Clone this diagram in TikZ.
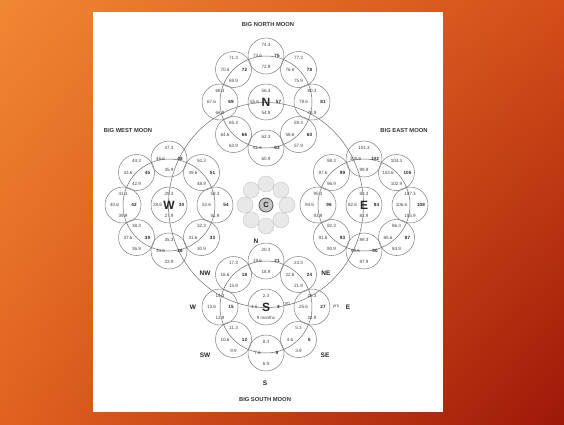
\documentclass[tikz,border=0pt]{standalone}
\usepackage{fontspec}
\setmainfont{Liberation Sans}
\usepackage{xcolor}
\usetikzlibrary{calc,positioning,shadings}
\definecolor{bgtl}{RGB}{240,135,50}
\definecolor{bgtr}{RGB}{212,78,25}
\definecolor{bgbl}{RGB}{225,98,32}
\definecolor{bgbr}{RGB}{158,24,8}
\definecolor{linegray}{RGB}{110,110,110}
\definecolor{circgray}{RGB}{125,125,125}
\definecolor{numgray}{RGB}{70,70,70}

% one moon circle with its four numbers
\newcommand{\moonpetal}[6]{%
  \node[petal] (#1) at (#2) {};
  \node[num] (#1t) at ([yshift=11.5pt]#1.center) {#3};
  \node[num] (#1l) at ([xshift=-8.5pt]#1.center) {#4};
  \node[bnum] (#1r) at ([xshift=11pt]#1.center) {#5};
  \node[num] (#1b) at ([yshift=-11pt]#1.center) {#6};
}
% centre circle of a big moon
\newcommand{\moonhub}[7]{%
  \node[petal, letter] (#1) at (#2) {#3};
  \node[num] (#1t) at ([yshift=11.5pt]#1.center) {#4};
  \node[num] (#1l) at ([xshift=-11.5pt]#1.center) {#5};
  \node[bnum] (#1r) at ([xshift=12.5pt]#1.center) {#6};
  \node[num] (#1b) at ([yshift=-11pt]#1.center) {#7};
}

\begin{document}
\begin{tikzpicture}[x=1pt, y=-1pt, line/.style={draw=linegray, line width=0.5pt}]
    % Define styles for circles and labels
    \tikzstyle{petal} = [draw=circgray, line width=0.5pt, circle, minimum size=36pt, inner sep=0pt]
    \tikzstyle{num} = [font=\fontsize{4.6}{5}\selectfont, text=numgray, inner sep=0pt]
    \tikzstyle{bnum} = [num, font=\fontsize{4.6}{5}\selectfont\bfseries, text=black!85]
    \tikzstyle{letter} = [font=\fontsize{12}{12}\selectfont\bfseries, text=black!85]
    \tikzstyle{compass} = [font=\fontsize{6.5}{7}\selectfont\bfseries, text=black!85, inner sep=0pt]
    \tikzstyle{title} = [font=\fontsize{5.8}{6}\selectfont\bfseries, text=black!80, inner sep=0pt]
    \tikzstyle{cpetal} = [draw=gray!45, fill=gray!18, circle, minimum size=16pt, inner sep=0pt, line width=0.4pt]
    \tikzstyle{chub} = [draw=black!65, fill=gray!45, circle, minimum size=14pt, inner sep=0pt, line width=0.8pt, font=\fontsize{7.5}{8}\selectfont\bfseries, text=black!85]

    % Background and page
    \shade[upper left=bgtl, upper right=bgtr, lower left=bgbl, lower right=bgbr] (0,0) rectangle (564,424);
    \useasboundingbox (0,0) rectangle (564,424);
    \fill[white] (93,12) rectangle (443,412);

    % Big moon centres
    \coordinate (C) at (266,205);
    \coordinate (Nc) at (266,102);
    \coordinate (Sc) at (266,307);
    \coordinate (Wc) at (169,205);
    \coordinate (Ec) at (364,205);

    % Orbits
    \draw[line] (C) ellipse [x radius=97.5pt, y radius=102.5pt];
    \draw[line] (Nc) circle [radius=46pt];
    \draw[line] (Sc) circle [radius=46pt];
    \draw[line] (Wc) circle [radius=46pt];
    \draw[line] (Ec) circle [radius=46pt];

    % Big South Moon
    \moonhub{S}{Sc}{S}{2.3}{1.6}{3}{}
    \node[num, font=\fontsize{4.4}{5}\selectfont] (Sb9) at ([yshift=-11pt]S.center) {9 months};
    \moonpetal{s21}{$(Sc)+(0,-46)$}{20.3}{19.6}{21}{18.9}
    \moonpetal{s18}{$(Sc)+(-32.5,-32.5)$}{17.3}{16.6}{18}{15.9}
    \moonpetal{s15}{$(Sc)+(-46,0)$}{14.3}{13.6}{15}{12.9}
    \moonpetal{s12}{$(Sc)+(-32.5,32.5)$}{11.3}{10.6}{12}{9.9}
    \moonpetal{s9}{$(Sc)+(0,46)$}{8.3}{7.6}{9}{6.9}
    \moonpetal{s6}{$(Sc)+(32.5,32.5)$}{5.3}{4.6}{6}{3.9}
    \moonpetal{s27}{$(Sc)+(46,0)$}{26.3}{25.6}{27}{24.9}
    \moonpetal{s24}{$(Sc)+(32.5,-32.5)$}{23.3}{22.6}{24}{21.9}
    \node[num] (s30) at (287,304) {30};
    \node[num] (yrs) at (336,307) {yrs};

    % Big West Moon
    \moonhub{W}{Wc}{W}{29.3}{28.6}{30}{27.9}
    \moonpetal{w48}{$(Wc)+(0,-46)$}{47.3}{46.6}{48}{45.9}
    \moonpetal{w45}{$(Wc)+(-32.5,-32.5)$}{44.3}{43.6}{45}{42.9}
    \moonpetal{w42}{$(Wc)+(-46,0)$}{41.3}{40.6}{42}{39.9}
    \moonpetal{w39}{$(Wc)+(-32.5,32.5)$}{38.3}{37.6}{39}{36.9}
    \moonpetal{w36}{$(Wc)+(0,46)$}{35.3}{34.6}{36}{33.9}
    \moonpetal{w33}{$(Wc)+(32.5,32.5)$}{32.3}{31.6}{33}{30.9}
    \moonpetal{w54}{$(Wc)+(46,0)$}{53.3}{52.6}{54}{51.9}
    \moonpetal{w51}{$(Wc)+(32.5,-32.5)$}{50.3}{49.6}{51}{48.9}

    % Big North Moon
    \moonhub{N}{Nc}{N}{56.3}{55.6}{57}{54.9}
    \moonpetal{n75}{$(Nc)+(0,-46)$}{74.3}{73.6}{75}{72.9}
    \moonpetal{n72}{$(Nc)+(-32.5,-32.5)$}{71.3}{70.6}{72}{69.9}
    \moonpetal{n69}{$(Nc)+(-46,0)$}{68.3}{67.6}{69}{66.9}
    \moonpetal{n66}{$(Nc)+(-32.5,32.5)$}{65.3}{64.6}{66}{63.9}
    \moonpetal{n63}{$(Nc)+(0,46)$}{62.3}{61.6}{63}{60.9}
    \moonpetal{n60}{$(Nc)+(32.5,32.5)$}{59.3}{58.6}{60}{57.9}
    \moonpetal{n81}{$(Nc)+(46,0)$}{80.3}{79.6}{81}{78.9}
    \moonpetal{n78}{$(Nc)+(32.5,-32.5)$}{77.3}{76.6}{78}{75.9}

    % Big East Moon
    \moonhub{E}{Ec}{E}{83.3}{82.6}{84}{81.9}
    \moonpetal{e102}{$(Ec)+(0,-46)$}{101.3}{100.6}{102}{99.9}
    \moonpetal{e99}{$(Ec)+(-32.5,-32.5)$}{98.3}{97.6}{99}{96.9}
    \moonpetal{e96}{$(Ec)+(-46,0)$}{95.3}{94.6}{96}{93.9}
    \moonpetal{e93}{$(Ec)+(-32.5,32.5)$}{92.3}{91.6}{93}{90.9}
    \moonpetal{e90}{$(Ec)+(0,46)$}{89.3}{88.6}{90}{87.9}
    \moonpetal{e87}{$(Ec)+(32.5,32.5)$}{86.3}{85.6}{87}{84.9}
    \moonpetal{e108}{$(Ec)+(46,0)$}{107.3}{106.6}{108}{105.9}
    \moonpetal{e105}{$(Ec)+(32.5,-32.5)$}{104.3}{103.6}{105}{102.9}

    % Centre moon
    \foreach \a [count=\i] in {90,45,0,-45,-90,-135,180,135}
        \node[cpetal] (c\i) at ($(C)+(\a:21pt)$) {};
    \node[chub] (Chub) at (C) {C};

    % Compass points round the south moon
    \node[compass] (cpN) at (256,241) {N};
    \node[compass] (cpNE) at (326,273) {NE};
    \node[compass] (cpE) at (348,307) {E};
    \node[compass] (cpSE) at (325,355) {SE};
    \node[compass] (cpS) at (265,383) {S};
    \node[compass] (cpSW) at (205,355) {SW};
    \node[compass] (cpW) at (193,307) {W};
    \node[compass] (cpNW) at (205,273) {NW};

    % Titles
    \node[title] (tN) at (268,24) {BIG NORTH MOON};
    \node[title] (tW) at (128,130) {BIG WEST MOON};
    \node[title] (tE) at (404,130) {BIG EAST MOON};
    \node[title] (tS) at (265,399) {BIG SOUTH MOON};
\end{tikzpicture}
\end{document}
